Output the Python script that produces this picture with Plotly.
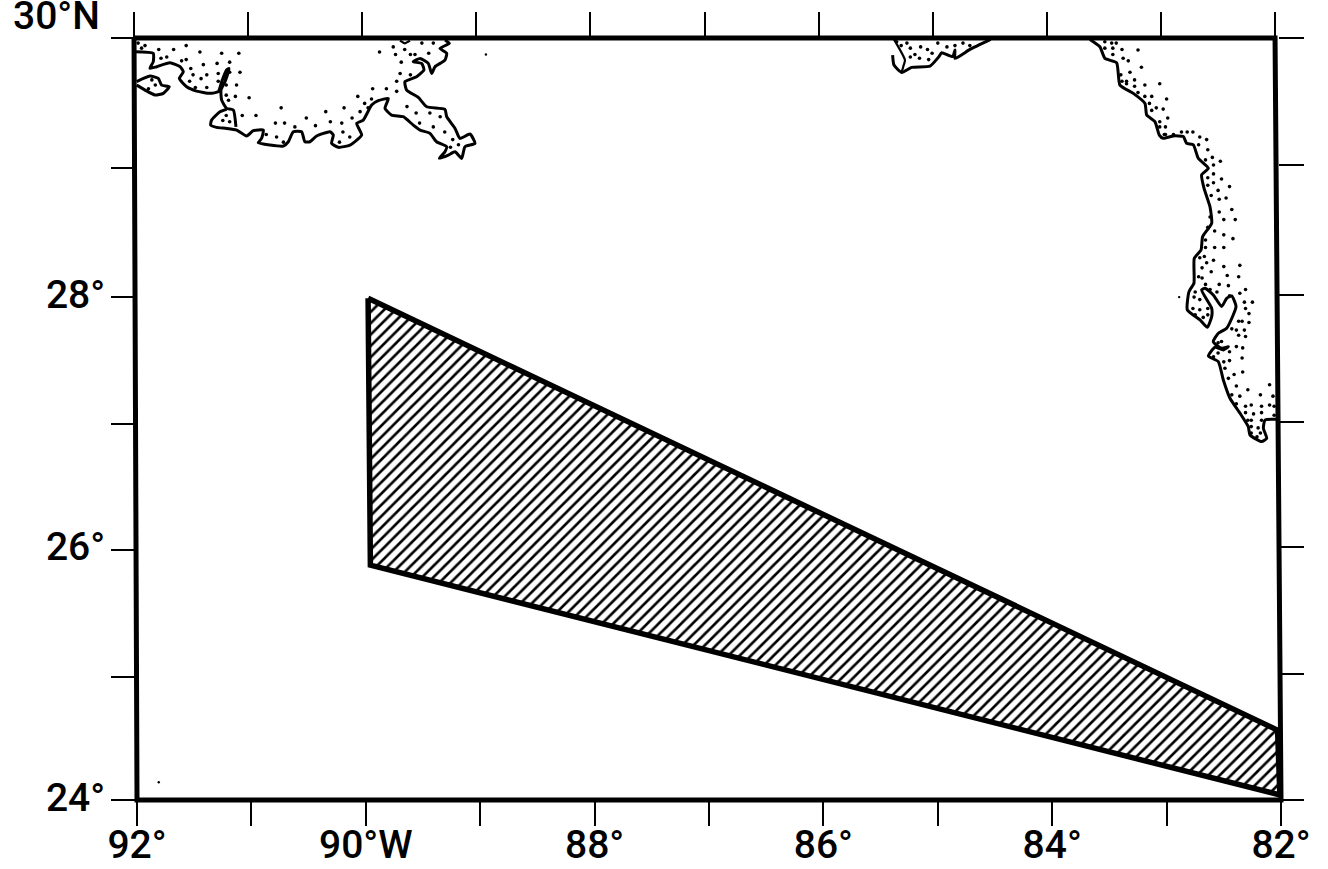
import plotly.graph_objects as go

FONT = "Roboto"
tick_lon = [-92, -91, -90, -89, -88, -87, -86, -85, -84, -83, -82]
tick_lon_text = ["92°", "", "90°W", "", "88°", "", "86°", "", "84°", "", "82°"]
# The printed latitude ticks are not evenly spaced (map projection), so each tick keeps
# its own read position on the chart's linear scale, on the left and on the right frame.
tick_lat_left = [24, 24.97, 25.97, 26.96, 27.96, 28.98, 30]
tick_lat_right = [24, 24.99, 25.99, 26.98, 27.98, 29.0, 30]
tick_lat_text = ["24°", "", "26°", "", "28°", "", ""]

frame_lon = [-92.026, -82.052, -82.0, -92.0, -92.026]
frame_lat = [30, 30, 24, 24, 30]

area_lon = [-89.98, -82.03, -82.01, -89.96, -89.98]
area_lat = [27.95, 24.55, 24.04, 25.85, 27.95]

river_lon = [-92.018, -91.858, -91.858, -91.887, -91.828, -91.712, -91.624, -91.595, -91.630, -91.566, -91.479, -91.362, -91.289, -91.260, -91.217, -91.196, -91.231, -91.266, -91.260, -91.217, -91.158, -91.135]
river_lat = [29.892, 29.879, 29.813, 29.761, 29.774, 29.805, 29.774, 29.734, 29.682, 29.616, 29.582, 29.564, 29.577, 29.656, 29.748, 29.761, 29.656, 29.590, 29.511, 29.446, 29.433, 29.301]

delta_lon = [-91.217, -91.275, -91.348, -91.356, -91.304, -91.217, -91.129, -91.042, -90.983, -90.896, -90.911, -90.940, -90.838, -90.721, -90.677, -90.634, -90.561, -90.532, -90.488, -90.430, -90.313, -90.284, -90.299, -90.240, -90.138, -90.036, -90.080, -90.022, -89.949, -89.891, -89.803, -89.832, -89.774, -89.672, -89.585, -89.526, -89.439, -89.381, -89.293, -89.308, -89.357, -89.279, -89.220, -89.162, -89.133, -89.046, -89.089, -89.177, -89.220, -89.293, -89.308, -89.468, -89.541, -89.643, -89.658, -89.556, -89.492, -89.512, -89.585, -89.526, -89.454, -89.424, -89.395, -89.308, -89.293, -89.352, -89.270, -89.308]
delta_lat = [29.438, 29.419, 29.354, 29.314, 29.296, 29.288, 29.275, 29.228, 29.270, 29.275, 29.209, 29.175, 29.157, 29.149, 29.183, 29.262, 29.262, 29.183, 29.183, 29.228, 29.262, 29.236, 29.170, 29.139, 29.157, 29.236, 29.328, 29.354, 29.472, 29.506, 29.524, 29.446, 29.393, 29.380, 29.314, 29.275, 29.249, 29.183, 29.144, 29.104, 29.052, 29.078, 29.104, 29.052, 29.144, 29.170, 29.244, 29.209, 29.288, 29.380, 29.438, 29.459, 29.532, 29.590, 29.656, 29.695, 29.748, 29.800, 29.813, 29.839, 29.800, 29.721, 29.774, 29.826, 29.879, 29.918, 29.958, 29.984]

island_lon = [-92.003, -91.887, -91.814, -91.785, -91.718, -91.770, -91.843, -91.930, -92.003]
island_lat = [29.656, 29.700, 29.682, 29.629, 29.616, 29.564, 29.551, 29.590, 29.629]

notch_lon = [-89.701, -89.658, -89.614]
notch_lat = [29.979, 29.958, 29.979]

panhandle_lon = [-85.395, -85.383, -85.316, -85.229, -85.068, -84.990, -84.966, -84.870, -84.850, -84.850, -84.719, -84.538]
panhandle_lat = [29.866, 29.787, 29.729, 29.769, 29.779, 29.853, 29.884, 29.853, 29.905, 29.839, 29.910, 29.989]

spur_lon = [-85.383, -85.287, -85.302, -85.316]
spur_lat = [29.989, 29.826, 29.774, 29.729]

florida_lon = [-83.670, -83.583, -83.539, -83.437, -83.408, -83.291, -83.189, -83.174, -83.102, -83.064, -83.029, -82.941, -82.854, -82.825, -82.766, -82.723, -82.635, -82.694, -82.673, -82.621, -82.606, -82.685, -82.699, -82.758, -82.761, -82.804, -82.819, -82.708, -82.644, -82.606, -82.606, -82.694, -82.664, -82.592, -82.519, -82.475, -82.431, -82.393, -82.475, -82.548, -82.592, -82.519, -82.460, -82.504, -82.577, -82.635, -82.548, -82.504, -82.446, -82.358, -82.286, -82.271, -82.169, -82.125, -82.154, -82.140, -82.038]
florida_lat = [29.989, 29.931, 29.839, 29.805, 29.629, 29.564, 29.485, 29.393, 29.341, 29.236, 29.210, 29.229, 29.224, 29.171, 29.158, 29.053, 28.974, 28.922, 28.817, 28.672, 28.541, 28.436, 28.331, 28.265, 28.069, 28.003, 27.859, 27.780, 27.722, 27.806, 27.872, 28.016, 28.029, 27.977, 27.885, 27.950, 27.969, 27.885, 27.714, 27.675, 27.609, 27.557, 27.570, 27.544, 27.565, 27.496, 27.452, 27.307, 27.163, 27.045, 26.940, 26.874, 26.822, 26.848, 26.927, 26.992, 26.998]

la_dots_lon = [-91.99, -91.93, -91.96, -91.81, -91.68, -91.57, -91.45, -91.26, -91.11, -91.79, -91.74, -91.61, -91.57, -91.42, -91.30, -91.19, -91.53, -91.19, -91.10, -91.51, -91.39, -91.29, -91.54, -91.44, -91.29, -91.22, -91.13, -91.49, -91.39, -91.22, -91.14, -91.02, -91.20, -90.74, -91.08, -90.96, -90.35, -90.19, -90.07, -89.94, -89.82, -89.73, -90.52, -90.79, -90.71, -90.62, -90.44, -90.31, -90.21, -90.12, -90.05, -89.98, -90.01, -89.95, -89.88, -89.76, -89.66, -89.51, -89.41, -89.74, -89.61, -89.45, -89.69, -89.57, -89.70, -89.61, -89.73, -91.87, -91.84, -91.90, -91.22, -91.25, -91.19, -90.87, -90.78, -90.72, -90.20, -90.14, -90.23, -89.64, -89.56, -89.44, -89.35, -89.53, -89.41, -89.31, -89.24, -89.19, -89.26]
la_dots_lat = [29.96, 29.94, 29.92, 29.91, 29.91, 29.94, 29.89, 29.88, 29.88, 29.84, 29.85, 29.82, 29.83, 29.79, 29.80, 29.81, 29.76, 29.73, 29.73, 29.71, 29.71, 29.72, 29.66, 29.68, 29.66, 29.63, 29.63, 29.61, 29.61, 29.55, 29.54, 29.53, 29.51, 29.45, 29.39, 29.39, 29.42, 29.45, 29.54, 29.60, 29.60, 29.58, 29.37, 29.33, 29.33, 29.30, 29.31, 29.34, 29.33, 29.37, 29.42, 29.45, 29.485, 29.52, 29.89, 29.93, 29.91, 29.96, 29.96, 29.87, 29.87, 29.88, 29.81, 29.87, 29.72, 29.71, 29.66, 29.67, 29.63, 29.60, 29.39, 29.35, 29.34, 29.24, 29.22, 29.18, 29.26, 29.22, 29.18, 29.46, 29.41, 29.41, 29.38, 29.33, 29.30, 29.26, 29.20, 29.16, 29.14]

panhandle_dots_lon = [-85.36, -85.32, -85.27, -85.24, -85.15, -85.09, -85.00, -84.92, -84.85, -84.78, -84.72, -85.20, -85.16, -85.24, -85.05, -85.08]
panhandle_dots_lat = [29.97, 29.94, 29.96, 29.92, 29.93, 29.91, 29.96, 29.93, 29.94, 29.96, 29.94, 29.87, 29.84, 29.85, 29.88, 29.83]

north_fl_dots_lon = [-83.54, -83.48, -83.44, -83.39, -83.25, -83.54, -83.47, -83.47, -83.38, -83.335, -83.22, -83.40, -83.32, -83.28, -83.35, -83.39, -83.35, -83.28, -83.19, -83.06, -83.25, -83.19, -83.13, -83.00, -83.15, -83.09, -83.03, -83.13, -82.99, -83.06, -83.01, -83.06, -83.02]
north_fl_dots_lat = [29.97, 29.96, 29.96, 29.91, 29.905, 29.92, 29.92, 29.87, 29.84, 29.82, 29.77, 29.71, 29.73, 29.67, 29.66, 29.66, 29.64, 29.62, 29.63, 29.64, 29.57, 29.54, 29.54, 29.52, 29.485, 29.45, 29.44, 29.43, 29.37, 29.34, 29.30, 29.30, 29.24]

south_fl_dots_lon = [-83.01, -82.94, -82.87, -82.82, -82.77, -82.71, -82.65, -82.72, -82.64, -82.66, -82.60, -82.53, -82.59, -82.59, -82.64, -82.59, -82.52, -82.64, -82.45, -82.55, -82.61, -82.54, -82.48, -82.43, -82.54, -82.62, -82.50, -82.40, -82.64, -82.58, -82.50, -82.42, -82.66, -82.58, -82.50, -82.66, -82.71, -82.67, -82.59, -82.65, -82.36, -82.50, -82.69, -82.61, -82.47, -82.37, -82.72, -82.69, -82.66, -82.54, -82.46, -82.31, -82.36, -82.75, -82.62, -82.56, -82.45, -82.76, -82.71, -82.25, -82.32, -82.71, -82.77, -82.64, -82.31, -82.28, -82.75, -82.64, -82.68, -82.37, -82.28, -82.34, -82.43, -82.39, -82.32, -82.37, -82.31, -82.52, -82.55, -82.39, -82.335, -82.45, -82.59, -82.55, -82.34, -82.50, -82.45, -82.49, -82.41, -82.335, -82.46, -82.39, -82.29, -82.10, -82.18, -82.07, -82.43, -82.36, -82.39, -82.31, -82.26, -82.17, -82.10, -82.06, -82.31, -82.24, -82.17, -82.06, -82.29, -82.26, -82.17, -82.26, -82.20, -82.18, -82.26, -82.21]
south_fl_dots_lat = [29.24, 29.24, 29.26, 29.26, 29.26, 29.22, 29.20, 29.16, 29.12, 29.04, 29.06, 29.03, 29.00, 28.93, 28.90, 28.86, 28.89, 28.84, 28.83, 28.80, 28.76, 28.73, 28.74, 28.65, 28.63, 28.59, 28.57, 28.57, 28.51, 28.48, 28.45, 28.42, 28.41, 28.35, 28.35, 28.35, 28.27, 28.28, 28.25, 28.23, 28.21, 28.20, 28.19, 28.16, 28.13, 28.12, 28.12, 28.11, 28.06, 28.06, 28.05, 28.02, 27.99, 28.00, 28.02, 28.00, 27.97, 27.96, 27.94, 27.92, 27.92, 27.86, 27.87, 27.87, 27.87, 27.83, 27.82, 27.82, 27.80, 27.77, 27.76, 27.77, 27.71, 27.70, 27.70, 27.66, 27.65, 27.61, 27.60, 27.57, 27.56, 27.53, 27.49, 27.52, 27.48, 27.45, 27.46, 27.40, 27.35, 27.37, 27.32, 27.26, 27.23, 27.27, 27.19, 27.18, 27.19, 27.18, 27.12, 27.10, 27.11, 27.10, 27.11, 27.10, 27.05, 27.04, 27.05, 27.03, 26.99, 26.99, 26.99, 26.94, 26.93, 26.89, 26.89, 26.86]

speck_lon = [-82.89, -91.81, -88.95]
speck_lat = [27.96, 24.14, 29.87]

fig = go.Figure()

fig.add_trace(go.Scatter(
    x=area_lon, y=area_lat, mode="lines", fill="toself", fillcolor="white",
    fillpattern=dict(shape="/", size=8, solidity=0.33, fgcolor="black", fgopacity=1, bgcolor="white"),
    line=dict(color="black", width=5.5), hoverinfo="skip", showlegend=False))

for lon, lat, width in [
    (river_lon, river_lat, 3), (delta_lon, delta_lat, 3), (island_lon, island_lat, 3),
    (notch_lon, notch_lat, 2.2), (panhandle_lon, panhandle_lat, 3), (spur_lon, spur_lat, 2.2),
    (florida_lon, florida_lat, 3),
]:
    fig.add_trace(go.Scatter(x=lon, y=lat, mode="lines",
                             line=dict(color="black", width=width, shape="spline", smoothing=0.5),
                             hoverinfo="skip", showlegend=False))

for lon, lat in [(la_dots_lon, la_dots_lat), (panhandle_dots_lon, panhandle_dots_lat),
                 (north_fl_dots_lon, north_fl_dots_lat), (south_fl_dots_lon, south_fl_dots_lat)]:
    fig.add_trace(go.Scatter(x=lon, y=lat, mode="markers",
                             marker=dict(color="black", size=3.6, line=dict(width=0)),
                             hoverinfo="skip", showlegend=False))

fig.add_trace(go.Scatter(x=speck_lon, y=speck_lat, mode="markers",
                         marker=dict(color="black", size=2.4, line=dict(width=0)),
                         hoverinfo="skip", showlegend=False))

fig.add_trace(go.Scatter(x=frame_lon, y=frame_lat, mode="lines",
                         line=dict(color="black", width=5), hoverinfo="skip", showlegend=False))

# Empty carriers so the separate tick axes are drawn
for xa, ya in [("x2", "y2"), ("x3", "y3")]:
    fig.add_trace(go.Scatter(x=tick_lon, y=[27] * len(tick_lon), xaxis=xa, yaxis=ya, mode="markers",
                             marker=dict(opacity=0), hoverinfo="skip", showlegend=False))

W, H = 1328, 869
fx = lambda px: px / W
fy = lambda py: 1 - py / H
ticks = dict(showgrid=False, zeroline=False, showline=False, ticks="outside",
             ticklen=25, tickwidth=2.4, tickcolor="black", automargin=False)
label_font = dict(family=FONT, size=39, color="black", weight=500)

fig.update_layout(
    width=W, height=H, margin=dict(l=0, r=0, t=0, b=0, autoexpand=False),
    paper_bgcolor="white", plot_bgcolor="rgba(0,0,0,0)",
    showlegend=False,
    # data axes: hidden, with a little slack so the frame is not clipped
    xaxis=dict(visible=False, range=[-92.1, -81.9], domain=[fx(125.56), fx(1292.44)], anchor="y"),
    yaxis=dict(visible=False, range=[23.9, 30.1], domain=[fy(812.7), fy(25.3)], anchor="x"),
    # bottom / left tick axes
    xaxis2=dict(domain=[fx(137), fx(1281)], range=[-92, -82], tickmode="array", tickvals=tick_lon,
                ticktext=tick_lon_text, anchor="y2", tickfont=label_font, ticklabelstandoff=-15, **ticks),
    yaxis2=dict(domain=[fy(800), fy(38)], range=[24, 30], tickmode="array", tickvals=tick_lat_left,
                ticktext=tick_lat_text, anchor="x2", tickfont=label_font, ticklabelstandoff=-2,
                ticklabelshift=-3, **ticks),
    # top / right tick axes
    xaxis3=dict(domain=[fx(134), fx(1275)], range=[-92, -82], tickmode="array", tickvals=tick_lon,
                showticklabels=False, side="top", anchor="y3", **ticks),
    yaxis3=dict(domain=[fy(800), fy(38)], range=[24, 30], tickmode="array", tickvals=tick_lat_right,
                showticklabels=False, side="right", anchor="free", position=fx(1278), **ticks),
    annotations=[dict(text="30°N", xref="paper", yref="paper", x=fx(102), y=fy(16), xanchor="right",
                      yanchor="middle", showarrow=False, font=label_font)],
)

fig.write_html("out.html", config=dict(displayModeBar=False),
               post_script="document.body.style.margin='0';")
